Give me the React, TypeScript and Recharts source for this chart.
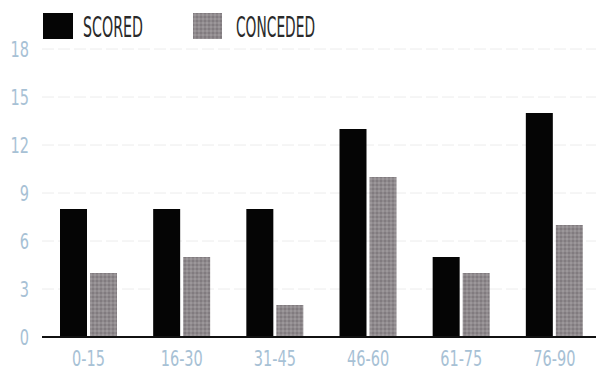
import { BarChart, Bar, XAxis, YAxis, CartesianGrid } from "recharts"

const periods = ["0-15", "16-30", "31-45", "46-60", "61-75", "76-90"]
const scored = [8, 8, 8, 13, 5, 14]
const conceded = [4, 5, 2, 10, 4, 7]
const yTicks = [0, 3, 6, 9, 12, 15, 18]

const data = periods.map((p, i) => ({ period: p, scored: scored[i], conceded: conceded[i] }))

const FONT = "'DejaVu Sans', sans-serif"
const TICK = "#a7c1d5"

// condensed look: squeeze the glyphs horizontally
function NarrowTick(props: any) {
    const { x, y, payload, textAnchor, dy } = props
    return (
        <text transform={`translate(${x},${y}) scale(0.66,1)`} dy={dy} textAnchor={textAnchor}
            fontFamily={FONT} fontSize={22} fill={TICK}>
            {payload.value}
        </text>
    )
}

export default function App() {
    return (
        <div style={{ position: "absolute", left: 0, top: 0, width: 596, height: 372, background: "#fff", overflow: "hidden" }}>
            <BarChart width={604} height={372} data={data}
                margin={{ top: 49, right: 3, bottom: 5, left: 0 }}
                barSize={27} barGap={3}>
                <defs>
                    <pattern id="grain" width="4" height="4" patternUnits="userSpaceOnUse">
                        <rect width="4" height="4" fill="#8f8a8d" />
                        <rect width="2" height="2" fill="#817b7f" />
                        <rect x="2" y="2" width="2" height="2" fill="#9c979a" />
                    </pattern>
                </defs>
                <CartesianGrid vertical={false} stroke="#ececec" strokeDasharray="12 4" />
                <XAxis dataKey="period" axisLine={{ stroke: "#111", strokeWidth: 2 }} tickLine={false}
                    height={30} tick={<NarrowTick dy={19} textAnchor="middle" />} tickMargin={4} />
                <YAxis domain={[0, 18]} ticks={yTicks} axisLine={false} tickLine={false} width={42}
                    tick={<NarrowTick dy={8} textAnchor="end" />} tickMargin={7} />
                <Bar dataKey="scored" fill="#050505" isAnimationActive={false} />
                <Bar dataKey="conceded" fill="url(#grain)" isAnimationActive={false} />
            </BarChart>
            <svg width={596} height={60} style={{ position: "absolute", left: 0, top: 0 }}>
                <defs>
                    <pattern id="grain2" width="4" height="4" patternUnits="userSpaceOnUse">
                        <rect width="4" height="4" fill="#8f8a8d" />
                        <rect width="2" height="2" fill="#817b7f" />
                        <rect x="2" y="2" width="2" height="2" fill="#9c979a" />
                    </pattern>
                </defs>
                <rect x={43} y={13} width={30} height={26} fill="#050505" />
                <text x={83} y={37} fontFamily={FONT} fontSize={29} fill="#2a2a2a"
                    textLength={60} lengthAdjust="spacingAndGlyphs">SCORED</text>
                <rect x={193} y={13} width={29} height={26} fill="url(#grain2)" />
                <text x={236} y={37} fontFamily={FONT} fontSize={29} fill="#2a2a2a"
                    textLength={79} lengthAdjust="spacingAndGlyphs">CONCEDED</text>
            </svg>
        </div>
    )
}
